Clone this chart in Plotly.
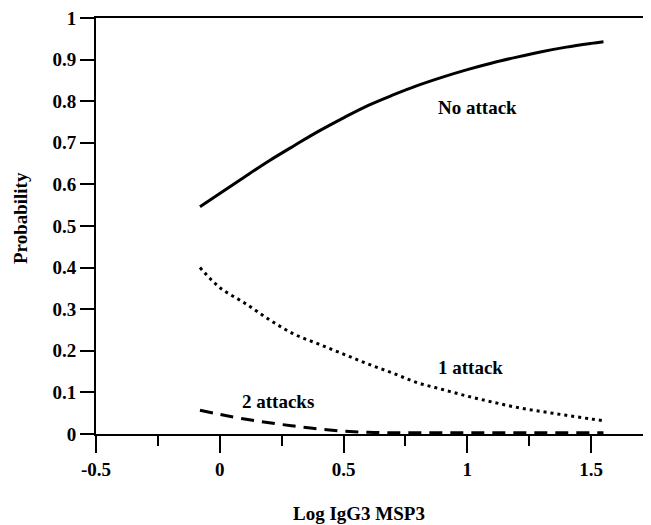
import plotly.graph_objects as go

# Data
x_vals = [-0.08, 0.0, 0.1, 0.2, 0.3, 0.4, 0.5, 0.6, 0.7, 0.8, 0.9, 1.0, 1.1, 1.2, 1.3, 1.4, 1.5, 1.55]
no_attack = [0.546, 0.578, 0.618, 0.657, 0.693, 0.728, 0.760, 0.790, 0.815, 0.838, 0.858, 0.876, 0.892, 0.906, 0.919, 0.930, 0.939, 0.943]
one_attack = [0.400, 0.352, 0.315, 0.275, 0.240, 0.216, 0.192, 0.168, 0.146, 0.123, 0.107, 0.091, 0.077, 0.064, 0.054, 0.045, 0.036, 0.032]
two_attacks = [0.057, 0.047, 0.036, 0.027, 0.019, 0.012, 0.007, 0.004, 0.003, 0.003, 0.003, 0.003, 0.003, 0.003, 0.003, 0.003, 0.003, 0.003]

x_ticks = [-0.5, 0, 0.5, 1, 1.5]
x_tick_labels = ["-0.5", "0", "0.5", "1", "1.5"]
y_ticks = [0, 0.1, 0.2, 0.3, 0.4, 0.5, 0.6, 0.7, 0.8, 0.9, 1]
y_tick_labels = ["0", "0.1", "0.2", "0.3", "0.4", "0.5", "0.6", "0.7", "0.8", "0.9", "1"]

labels = ["No attack", "1 attack", "2 attacks"]
label_x = [1.043, 1.011, 0.235]
label_y = [0.784, 0.161, 0.077]

x_title = "Log IgG3 MSP3"
y_title = "Probability"

FONT = "Liberation Serif"
SIZE = 19

fig = go.Figure()
fig.add_trace(go.Scatter(x=x_vals, y=no_attack, mode="lines", name=labels[0],
                         line=dict(color="black", width=3, shape="spline")))
fig.add_trace(go.Scatter(x=x_vals, y=one_attack, mode="lines", name=labels[1],
                         line=dict(color="black", width=3, dash="3px,4px", shape="spline")))
fig.add_trace(go.Scatter(x=x_vals, y=two_attacks, mode="lines", name=labels[2],
                         line=dict(color="black", width=3, dash="13px,8px", shape="spline")))

for t, lx, ly in zip(labels, label_x, label_y):
    fig.add_annotation(x=lx, y=ly, text=t, showarrow=False,
                       font=dict(family=FONT, size=SIZE, color="black", weight="bold"))

# axis titles placed as paper annotations
fig.add_annotation(xref="paper", yref="paper", x=0.474, y=-0.19, text=x_title,
                   showarrow=False, xanchor="center", yanchor="middle",
                   font=dict(family=FONT, size=SIZE, color="black", weight="bold"))
fig.add_annotation(xref="paper", yref="paper", x=-0.137, y=0.519, text=y_title,
                   showarrow=False, xanchor="center", yanchor="middle", textangle=-90,
                   font=dict(family=FONT, size=SIZE, color="black", weight="bold"))

fig.update_layout(
    width=643, height=517,
    margin=dict(l=88, r=0, t=10, b=91),
    paper_bgcolor="white", plot_bgcolor="white",
    showlegend=False,
    font=dict(family=FONT, color="black", weight="bold"),
    xaxis=dict(
        range=[-0.5, 1.742],
        tickvals=x_ticks, ticktext=x_tick_labels,
        ticks="outside", ticklen=17, tickwidth=2, tickcolor="black",
        showline=True, linewidth=2, linecolor="black", mirror=True,
        showgrid=False, zeroline=False,
        tickfont=dict(family=FONT, size=SIZE, color="black", weight="bold"),
        minor=dict(dtick=0.25, tick0=-0.5, ticks="outside", ticklen=10, tickwidth=2,
                   tickcolor="black", showgrid=False),
    ),
    yaxis=dict(
        range=[0, 1],
        tickvals=y_ticks, ticktext=y_tick_labels,
        ticks="outside", ticklen=14, tickwidth=2, tickcolor="black",
        showline=True, linewidth=2, linecolor="black",
        showgrid=False, zeroline=False, ticklabeloverflow="allow",
        tickfont=dict(family=FONT, size=SIZE, color="black", weight="bold"),
    ),
)

fig.write_html("out.html")
